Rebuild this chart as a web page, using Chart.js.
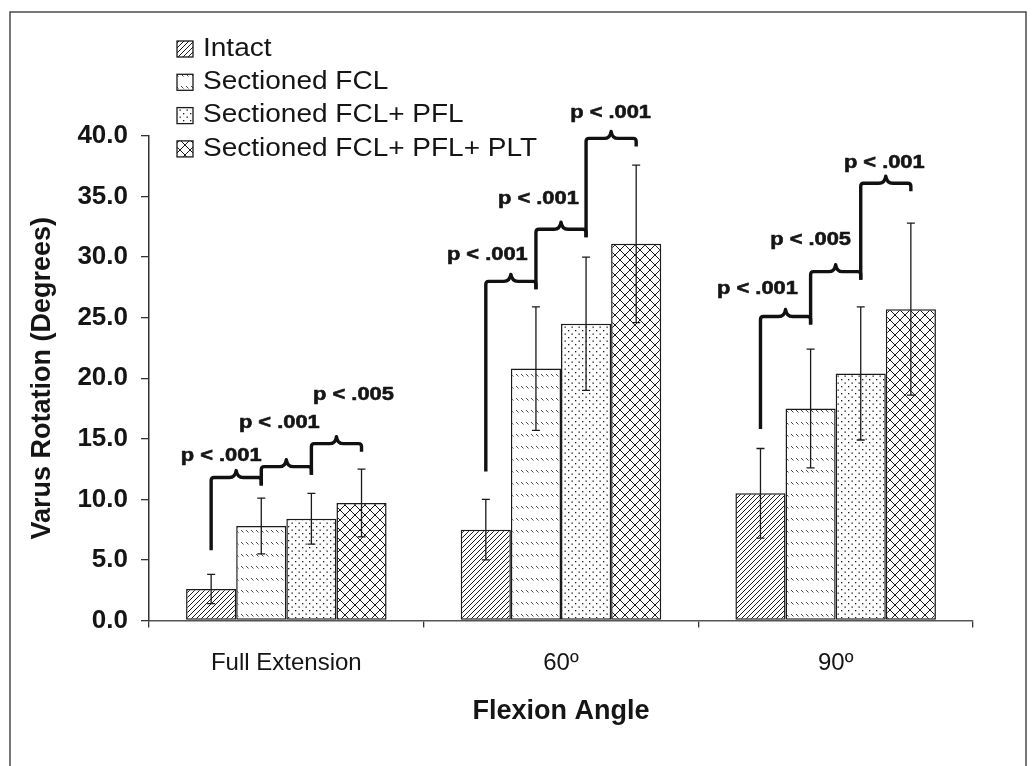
<!DOCTYPE html>
<html>
<head>
<meta charset="utf-8">
<title>Varus Rotation vs Flexion Angle</title>
<script src="https://cdn.jsdelivr.net/npm/chart.js@4.4.1/dist/chart.umd.min.js"></script>
<style>
  html, body { margin: 0; padding: 0; background: #fff; }
  canvas { display: block; }
</style>
</head>
<body>
<canvas id="chart" width="1034" height="766"></canvas>
<script>
// Values (degrees)
const categories = ["Full Extension", "60º", "90º"];
const seriesLabels = ["Intact", "Sectioned FCL", "Sectioned FCL+ PFL", "Sectioned FCL+ PFL+ PLT"];
const intact = [2.6, 7.5, 10.5];
const sectionedFcl = [7.8, 20.8, 17.5];
const sectionedFclPfl = [8.4, 24.5, 20.4];
const sectionedFclPflPlt = [9.7, 31.1, 25.7];
const intactSd = [1.2, 2.5, 3.7];
const sectionedFclSd = [2.3, 5.1, 4.9];
const sectionedFclPflSd = [2.1, 5.5, 5.5];
const sectionedFclPflPltSd = [2.8, 6.5, 7.1];
const yTicks = [0, 5, 10, 15, 20, 25, 30, 35, 40];

// Significance brackets, one row per flexion angle
const pLabels = [
  ["p < .001", "p < .001", "p < .005"],
  ["p < .001", "p < .001", "p < .001"],
  ["p < .001", "p < .005", "p < .001"],
];
const bracketStart = [5.8, 12.3, 15.8];
const bracketLevels = [
  [11.8, 12.7, 14.6],
  [28.0, 32.3, 39.8],
  [25.1, 28.8, 36.1],
];
const pLabelLevels = [
  [13.6, 16.3, 18.6],
  [30.2, 34.8, 41.9],
  [27.4, 31.4, 37.8],
];

const FONT = "'Liberation Sans', Arial, sans-serif";
Chart.defaults.font.family = FONT;
Chart.defaults.color = "#151515";

// Fill patterns for the bars
const makePattern = (w, h, paint) => {
  const c = document.createElement("canvas");
  c.width = w;
  c.height = h;
  const g = c.getContext("2d");
  g.fillStyle = "#fff";
  g.fillRect(0, 0, w, h);
  g.strokeStyle = "#1a1a1a";
  g.fillStyle = "#1a1a1a";
  g.lineWidth = 1;
  paint(g);
  return g.createPattern(c, "repeat");
};

const hatch = makePattern(5, 5, (g) => {
  g.beginPath();
  g.moveTo(0, 5); g.lineTo(5, 0);
  g.moveTo(-1, 1); g.lineTo(1, -1);
  g.moveTo(4, 6); g.lineTo(6, 4);
  g.stroke();
});
const dashes = makePattern(5, 12, (g) => {
  g.strokeStyle = "#333";
  g.lineWidth = 0.9;
  g.beginPath();
  g.moveTo(1, 2); g.lineTo(3.5, 4.5);
  g.stroke();
});
const dots = makePattern(7, 7, (g) => {
  g.fillRect(1, 1, 1.3, 1.3);
  g.fillRect(4.5, 4.5, 1.3, 1.3);
});
const lattice = makePattern(10, 10, (g) => {
  g.beginPath();
  g.moveTo(0, 0); g.lineTo(10, 10);
  g.moveTo(10, 0); g.lineTo(0, 10);
  g.stroke();
});

const fills = [hatch, dashes, dots, lattice];
const seriesData = [intact, sectionedFcl, sectionedFclPfl, sectionedFclPflPlt];
const seriesSd = [intactSd, sectionedFclSd, sectionedFclPflSd, sectionedFclPflPltSd];

// where each p label sits, as a fraction of the bracket span
const labelShift = [
  [0.2, 0.36, 0.84],
  [0.03, 0.05, 0.49],
  [-0.06, 0, 0.47],
];

const drawText = (ctx, text, x, y, font, sx, align, heavy) => {
  ctx.save();
  ctx.translate(x, y);
  ctx.scale(sx, 1);
  ctx.font = font;
  ctx.textAlign = align;
  ctx.textBaseline = "middle";
  ctx.fillStyle = "#151515";
  ctx.fillText(text, 0, 0);
  if (heavy) {
    ctx.strokeStyle = "#151515";
    ctx.lineWidth = 0.6;
    ctx.strokeText(text, 0, 0);
  }
  ctx.restore();
};

const drawBrace = (ctx, xL, xR, yBottom, yLevel, hook) => {
  const mid = (xL + xR) / 2;
  ctx.beginPath();
  ctx.moveTo(xL, yBottom);
  ctx.lineTo(xL, yLevel + 3);
  ctx.quadraticCurveTo(xL, yLevel, xL + 3, yLevel);
  ctx.lineTo(mid - 7, yLevel);
  ctx.quadraticCurveTo(mid - 1, yLevel, mid, yLevel - 7);
  ctx.quadraticCurveTo(mid + 1, yLevel, mid + 7, yLevel);
  ctx.lineTo(xR - 3, yLevel);
  ctx.quadraticCurveTo(xR, yLevel, xR, yLevel + 3);
  ctx.lineTo(xR, yLevel + hook);
  ctx.stroke();
};

const decor = {
  id: "decor",
  beforeDraw(chart) {
    const ctx = chart.ctx;
    ctx.save();
    ctx.fillStyle = "#fff";
    ctx.fillRect(0, 0, chart.width, chart.height);
    ctx.strokeStyle = "#4a4a4a";
    ctx.lineWidth = 1.5;
    ctx.strokeRect(10, 12, 1016, 800);
    ctx.restore();
  },
  afterDatasetsDraw(chart) {
    const ctx = chart.ctx;
    const y = chart.scales.y;
    ctx.save();

    // error bars
    ctx.strokeStyle = "#1a1a1a";
    ctx.lineWidth = 1.3;
    seriesData.forEach((vals, d) => {
      chart.getDatasetMeta(d).data.forEach((bar, i) => {
        const top = y.getPixelForValue(vals[i] + seriesSd[d][i]);
        const bot = y.getPixelForValue(vals[i] - seriesSd[d][i]);
        ctx.beginPath();
        ctx.moveTo(bar.x, top); ctx.lineTo(bar.x, bot);
        ctx.moveTo(bar.x - 4, top); ctx.lineTo(bar.x + 4, top);
        ctx.moveTo(bar.x - 4, bot); ctx.lineTo(bar.x + 4, bot);
        ctx.stroke();
      });
    });

    // brackets and p values
    ctx.strokeStyle = "#111";
    ctx.lineWidth = 3.4;
    ctx.lineJoin = "round";
    ctx.lineCap = "butt";
    categories.forEach((c, g) => {
      let yStart = y.getPixelForValue(bracketStart[g]);
      for (let k = 0; k < 3; k++) {
        const xL = chart.getDatasetMeta(k).data[g].x;
        const xR = chart.getDatasetMeta(k + 1).data[g].x;
        const yLevel = y.getPixelForValue(bracketLevels[g][k]);
        drawBrace(ctx, xL, xR, yStart, yLevel, 8);
        yStart = yLevel + 8;
        const lx = xL + labelShift[g][k] * (xR - xL);
        drawText(ctx, pLabels[g][k], lx, y.getPixelForValue(pLabelLevels[g][k]),
          "bold 19px " + FONT, 1.15, "center", true);
      }
    });
    ctx.restore();
  },
  afterDraw(chart) {
    // legend in the top left corner
    const ctx = chart.ctx;
    ctx.save();
    seriesLabels.forEach((label, i) => {
      const cy = 49 + i * 33.3;
      ctx.fillStyle = fills[i];
      ctx.fillRect(177, cy - 8, 16, 16);
      ctx.strokeStyle = "#1a1a1a";
      ctx.lineWidth = 1.3;
      ctx.strokeRect(177, cy - 8, 16, 16);
      drawText(ctx, label, 203, cy, "25px " + FONT, 1.12, "left", false);
    });
    ctx.restore();
  },
};

new Chart(document.getElementById("chart"), {
  type: "bar",
  data: {
    labels: categories,
    datasets: seriesLabels.map((label, i) => ({
      label: label,
      data: seriesData[i],
      backgroundColor: fills[i],
      borderColor: "#1a1a1a",
      borderWidth: 1.5,
      borderSkipped: false,
      categoryPercentage: 0.73,
      barPercentage: 1.0,
    })),
  },
  options: {
    responsive: false,
    animation: false,
    devicePixelRatio: 1,
    layout: { padding: { top: 136, right: 61, left: 0, bottom: 0 } },
    plugins: {
      legend: { display: false },
      tooltip: { enabled: false },
    },
    scales: {
      x: {
        grid: { drawOnChartArea: false, tickLength: 7, color: "#333", lineWidth: 1.3 },
        border: { color: "#555", width: 1.5 },
        ticks: { font: { size: 24 }, padding: 21, color: "#151515" },
        title: {
          display: true,
          text: "Flexion Angle",
          font: { size: 27, weight: "bold" },
          padding: { top: 0, bottom: 38 },
          color: "#151515",
        },
        afterFit: (axis) => { axis.height = 145.5; },
      },
      y: {
        min: 0,
        max: 40,
        afterBuildTicks: (axis) => { axis.ticks = yTicks.map((v) => ({ value: v })); },
        grid: { drawOnChartArea: false, tickLength: 8, color: "#333", lineWidth: 1.3 },
        border: { color: "#333", width: 1.5 },
        ticks: {
          font: { size: 26, weight: "bold" },
          padding: 13,
          color: "#151515",
          callback: (v) => Number(v).toFixed(1),
        },
        title: {
          display: true,
          text: "Varus Rotation (Degrees)",
          font: { size: 27, weight: "bold" },
          padding: { top: 26, bottom: 0 },
          color: "#151515",
        },
        afterFit: (axis) => { axis.width = 149; },
      },
    },
  },
  plugins: [decor],
});
</script>
</body>
</html>
